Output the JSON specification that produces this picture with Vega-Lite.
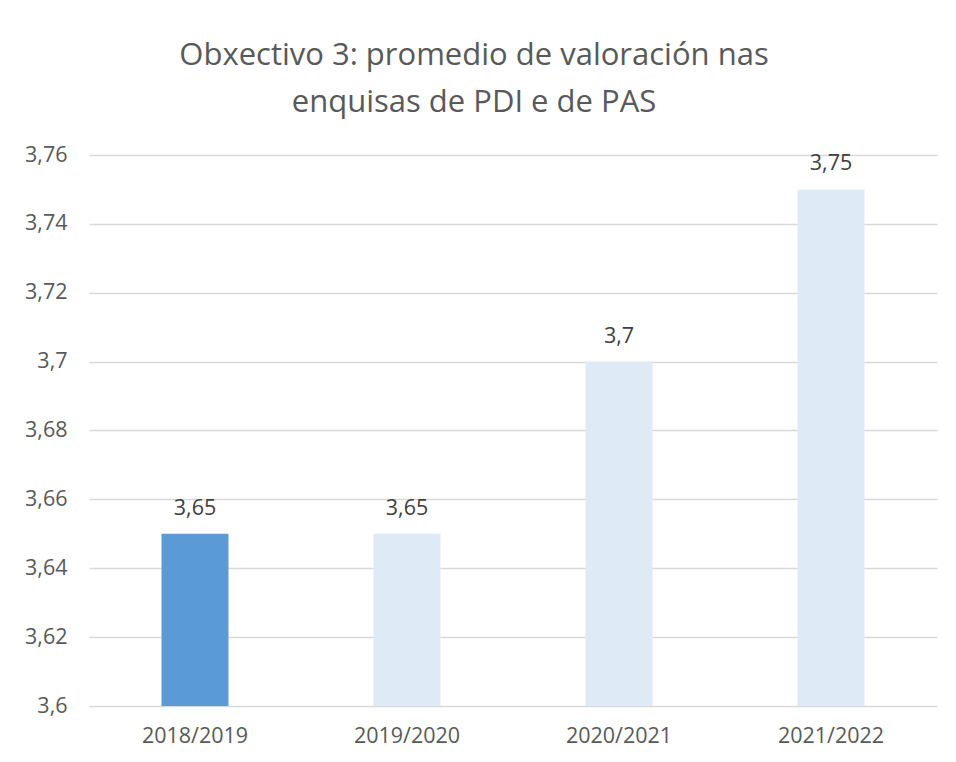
{
  "$schema": "https://vega.github.io/schema/vega-lite/v6.json",
  "width": 848,
  "height": 551,
  "autosize": {"type": "none"},
  "padding": {"left": 89, "top": 155, "right": 19, "bottom": 56},
  "background": "white",
  "config": {
    "locale": {"number": {"decimal": ",", "thousands": ".", "grouping": [3], "currency": ["", " €"]}},
    "view": {"stroke": null},
    "font": "Open Sans"
  },
  "title": {
    "text": ["Obxectivo 3: promedio de valoración nas", "enquisas de PDI e de PAS"],
    "fontSize": 31,
    "fontWeight": "normal",
    "color": "#595959",
    "font": "Open Sans",
    "lineHeight": 47,
    "anchor": "middle",
    "dx": -39,
    "offset": 25
  },
  "data": {
    "values": [
      {"year": "2018/2019", "value": 3.65},
      {"year": "2019/2020", "value": 3.65},
      {"year": "2020/2021", "value": 3.7},
      {"year": "2021/2022", "value": 3.75}
    ]
  },
  "encoding": {
    "x": {
      "field": "year",
      "type": "nominal",
      "sort": null,
      "scale": {"paddingInner": 0, "paddingOuter": 0},
      "axis": {
        "title": null,
        "labelAngle": 0,
        "labelFontSize": 21.5,
        "labelColor": "#595959",
        "labelPadding": 19,
        "ticks": false,
        "domain": false
      }
    },
    "y": {
      "field": "value",
      "type": "quantitative",
      "scale": {"domain": [3.6, 3.76], "zero": false, "nice": false},
      "axis": {
        "title": null,
        "values": [3.6, 3.62, 3.64, 3.66, 3.68, 3.7, 3.72, 3.74, 3.76],
        "format": ".2~f",
        "labelFontSize": 21.5,
        "labelColor": "#595959",
        "labelPadding": 22,
        "ticks": false,
        "domain": false,
        "grid": true,
        "gridColor": "#D9D9D9",
        "gridWidth": 1.5
      }
    }
  },
  "layer": [
    {
      "mark": {"type": "bar", "width": {"band": 0.316}, "clip": true},
      "encoding": {
        "color": {
          "condition": {"test": "datum.year === '2018/2019'", "value": "#5B9BD5"},
          "value": "#DEEAF6"
        }
      }
    },
    {
      "mark": {"type": "text", "dy": -25, "fontSize": 21.5, "color": "#404040", "font": "Open Sans"},
      "encoding": {
        "text": {"field": "value", "type": "quantitative", "format": ".2~f"}
      }
    }
  ]
}
